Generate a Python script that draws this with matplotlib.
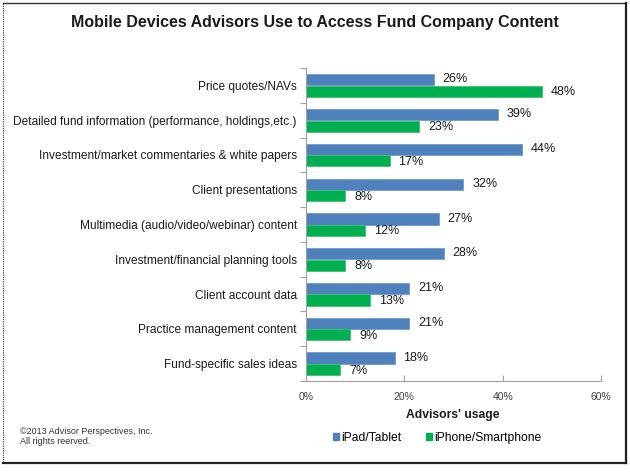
import matplotlib
matplotlib.use("Agg")
import matplotlib.pyplot as plt
from matplotlib.patches import Rectangle
from matplotlib.lines import Line2D
import numpy as np

plt.rcParams['font.family'] = ['Liberation Sans', 'DejaVu Sans']

categories = [
    "Price quotes/NAVs",
    "Detailed fund information (performance, holdings,etc.)",
    "Investment/market commentaries & white papers",
    "Client presentations",
    "Multimedia (audio/video/webinar) content",
    "Investment/financial planning tools",
    "Client account data",
    "Practice management content",
    "Fund-specific sales ideas",
]
ipad = [26, 39, 44, 32, 27, 28, 21, 21, 18]
iphone = [48, 23, 17, 8, 12, 8, 13, 9, 7]
xticks = [0, 20, 40, 60]
xtick_labels = ["0%", "20%", "40%", "60%"]
series_names = ["iPad/Tablet", "iPhone/Smartphone"]
blue = "#4F81BD"
green = "#00B050"

W, H = 630, 476
fig = plt.figure(figsize=(W / 100, H / 100), dpi=100)
ax = fig.add_axes([306 / W, 1 - 381 / H, (601 - 306) / W, (381 - 68) / H])

y = np.arange(len(categories))
bh = 0.32
ax.barh(y - 0.16, ipad, height=bh, color=blue, edgecolor="#6E9AD0", linewidth=0.6)
ax.barh(y + 0.17, iphone, height=bh, color=green, edgecolor="#40C070", linewidth=0.6)

for yi, v in zip(y, ipad):
    ax.text(v + 1.8, yi - 0.17, f"{v}%", va="center", ha="left", fontsize=9, color="#1a1a1a")
for yi, v in zip(y, iphone):
    ax.text(v + 1.8, yi + 0.2, f"{v}%", va="center", ha="left", fontsize=9, color="#1a1a1a")

ax.set_xlim(0, 60)
ax.set_ylim(len(categories) - 0.5, -0.5)
ax.set_xticks(xticks)
ax.set_xticklabels(xtick_labels, fontsize=7.5, color="#404040")
ax.set_yticks(np.arange(len(categories) + 1) - 0.5)
ax.set_yticklabels([])
ax.set_yticks(y, minor=True)
ax.set_yticklabels(categories, minor=True, fontsize=8.6, color="#1a1a1a")
ax.tick_params(axis="y", which="minor", length=0, pad=6.5)
ax.tick_params(axis="y", which="major", length=4, direction="out", color="#A0A0A0")
ax.tick_params(axis="x", length=4, direction="in", color="#A0A0A0", pad=8)
for s in ["top", "right"]:
    ax.spines[s].set_visible(False)
for s in ["left", "bottom"]:
    ax.spines[s].set_color("#A0A0A0")
    ax.spines[s].set_linewidth(0.8)

fig.text(315 / W, 1 - 22 / H, "Mobile Devices Advisors Use to Access Fund Company Content",
         ha="center", va="center", fontsize=11.5, fontweight="bold", color="#1a1a1a")
fig.text(453 / W, 1 - 415 / H, "Advisors' usage", ha="center", va="center",
         fontsize=8.7, fontweight="bold", color="#1a1a1a")

handles = [Rectangle((0, 0), 1, 1, color=blue), Rectangle((0, 0), 1, 1, color=green)]
fig.legend(handles, series_names, loc="center", bbox_to_anchor=(437 / W, 1 - 438 / H),
           ncol=2, frameon=False, fontsize=8.7, handlelength=0.55, handleheight=0.55,
           handletextpad=0.15, columnspacing=2.0)

fig.text(20 / W, 1 - 432 / H, "©2013 Advisor Perspectives, Inc.", ha="left", va="center",
         fontsize=6.5, color="#333333")
fig.text(20 / W, 1 - 442 / H, "All rights reerved.", ha="left", va="center",
         fontsize=6.5, color="#333333")

# figure border
fig.add_artist(Line2D([3 / W, 626 / W], [1 - 3 / H, 1 - 3 / H], transform=fig.transFigure,
                      color="#333333", linewidth=1.0))
fig.add_artist(Line2D([626 / W, 626 / W], [1 - 3 / H, 1 - 463 / H], transform=fig.transFigure,
                      color="#222222", linewidth=1.6))
fig.add_artist(Line2D([3 / W, 626 / W], [1 - 463 / H, 1 - 463 / H], transform=fig.transFigure,
                      color="#222222", linewidth=1.6))
fig.add_artist(Line2D([3 / W, 3 / W], [1 - 3 / H, 1 - 463 / H], transform=fig.transFigure,
                      color="#333333", linewidth=0.8, linestyle=(0, (1, 1))))

fig.savefig("out.png", dpi=100)
